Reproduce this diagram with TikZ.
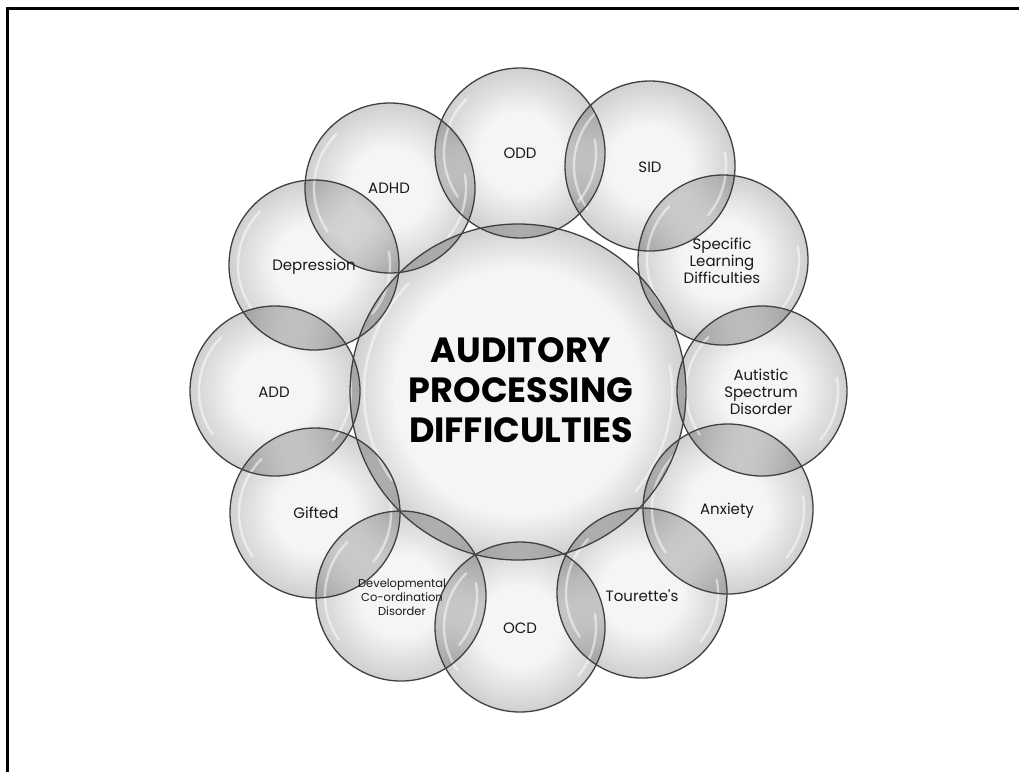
\documentclass[tikz,border=0pt]{standalone}
\usepackage{fontspec}
\setmainfont{Poppins}
\pgfdeclarelayer{shadelayer}
\pgfdeclarelayer{textlayer}
\pgfsetlayers{shadelayer,main,textlayer}
\newcommand\glossarc[2]{%
  \draw[gloss] (#1.center) ++(135:#2) arc[start angle=135,end angle=215,radius=#2];
  \draw[gloss] (#1.center) ++(-40:#2) arc[start angle=-40,end angle=10,radius=#2];}
\newcommand\rimbands[2]{%
  \foreach \i in {1,...,12}{%
    \draw[band, line width={3.6pt*\i}] (#1.center) circle[radius={#2-1.8pt*\i}];}}
\begin{document}
\begin{tikzpicture}[x=1pt,y=-1pt,
  bubblebase/.style={circle, inner sep=0pt, fill=black, fill opacity=0.04, draw=none},
  smallb/.style={bubblebase, minimum size=170pt},
  bigb/.style={bubblebase, minimum size=336pt},
  band/.style={draw=black, opacity=0.0115},
  rim/.style={draw=black!75, line width=1.3pt},
  gloss/.style={draw=white, line width=2.4pt, opacity=0.5, line cap=round},
  lbl/.style={font=\fontsize{15}{17}\selectfont, align=center, text=black!90, inner sep=0pt},
  lblsmall/.style={font=\fontsize{11.5}{14}\selectfont, align=center, text=black!90, inner sep=0pt},
  titlelbl/.style={font=\fontsize{35}{40}\selectfont\bfseries, align=center, text=black, inner sep=0pt}]
\useasboundingbox (0,0) rectangle (1019,772);
% shaded bubbles
\begin{pgfonlayer}{shadelayer}
\fill[white] (0,0) rectangle (1019,772);
\node[bigb] (main) at (518,392) {};
\node[smallb] (odd) at (520,153) {};
\node[smallb] (sid) at (650,166) {};
\node[smallb] (sld) at (723,260) {};
\node[smallb] (asd) at (762,391) {};
\node[smallb] (anx) at (728,509) {};
\node[smallb] (tou) at (642,593) {};
\node[smallb] (ocd) at (520,627) {};
\node[smallb] (dcd) at (401,596) {};
\node[smallb] (gif) at (315,513) {};
\node[smallb] (add) at (275,391) {};
\node[smallb] (dep) at (314,265) {};
\node[smallb] (adhd) at (390,188) {};
\rimbands{main}{168pt}
\foreach \n in {odd,sid,sld,asd,anx,tou,ocd,dcd,gif,add,dep,adhd}{\rimbands{\n}{85pt}}
\end{pgfonlayer}
% frame
\coordinate (fb) at (7.7,772);
\coordinate (fc) at (7.7,8.3);
\coordinate (fr) at (1019,8.3);
\draw[line width=2.6pt] (fb) -- (fc) -- (fr);
% gloss highlights
\glossarc{main}{154pt}
\foreach \n in {odd,sid,sld,asd,anx,tou,ocd,dcd,gif,add,dep,adhd}{\glossarc{\n}{76pt}}
% rims
\draw[rim] (main.center) circle[radius=168pt];
\foreach \n in {odd,sid,sld,asd,anx,tou,ocd,dcd,gif,add,dep,adhd}{\draw[rim] (\n.center) circle[radius=85pt];}
% labels
\begin{pgfonlayer}{textlayer}
\node[titlelbl] (title) at (521,390) {AUDITORY\\PROCESSING\\DIFFICULTIES};
\node[lbl] (t-odd) at (520,153) {ODD};
\node[lbl] (t-sid) at (650,167) {SID};
\node[lbl] (t-sld) at (722,261) {Specific\\Learning\\Difficulties};
\node[lbl] (t-asd) at (761,392) {Autistic\\Spectrum\\Disorder};
\node[lbl] (t-anx) at (727,511) {Anxiety};
\node[lbl] (t-tou) at (642,596) {Tourette\textquotesingle s};
\node[lbl] (t-ocd) at (520,628) {OCD};
\node[lblsmall] (t-dcd) at (402,597) {Developmental\\Co-ordination\\Disorder};
\node[lbl] (t-gif) at (316,513) {Gifted};
\node[lbl] (t-add) at (274,392) {ADD};
\node[lbl] (t-dep) at (314,267) {Depression};
\node[lbl] (t-adhd) at (389,188) {ADHD};
\end{pgfonlayer}
\end{tikzpicture}
\end{document}
